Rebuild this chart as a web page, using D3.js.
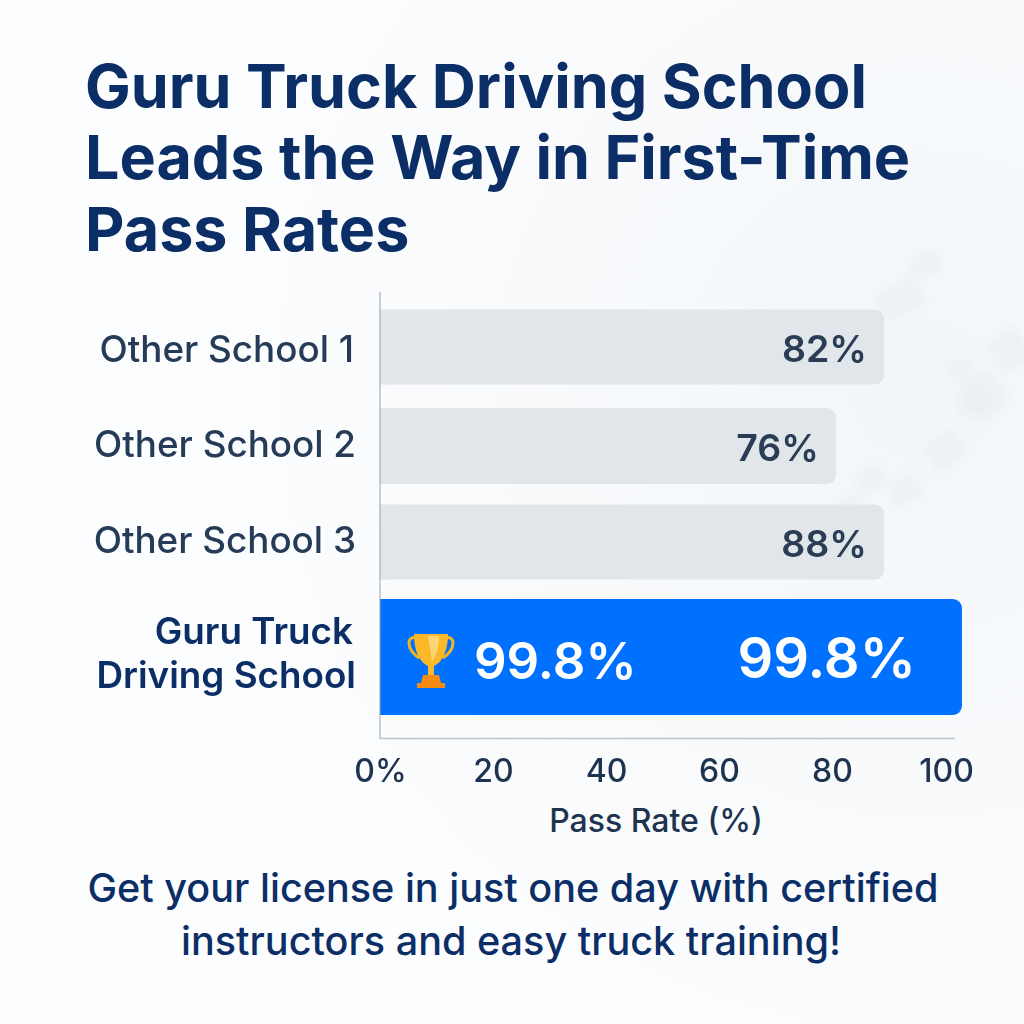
<!DOCTYPE html>
<html>
<head>
<meta charset="utf-8">
<script src="https://cdn.jsdelivr.net/npm/d3@7"></script>
<style>
  html, body { margin: 0; padding: 0; background: #fbfcfd; }
  svg { display: block; font-family: Inter, "Noto Sans", sans-serif; }
</style>
</head>
<body>
<script>
const titleLines = ['Guru Truck Driving School', 'Leads the Way in First-Time', 'Pass Rates']
const footerLines = ['Get your license in just one day with certified', 'instructors and easy truck training!']
const categories = ['Other School 1', 'Other School 2', 'Other School 3', 'Guru Truck Driving School']
// bar ends as read against the drawn axis (the picture's bars overrun their labels)
const barEnds = [89.2, 80.7, 89.2, 103]
const valueLabels = ['82%', '76%', '88%', '99.8%']
const tickValues = [0, 20, 40, 60, 80, 100]
const tickLabels = ['0%', '20', '40', '60', '80', '100']
const bgTiles = [[900, 300, 42, 30], [925, 265, 30, 22], [985, 395, 36, 40], [970, 405, 24, 24], [945, 450, 34, 30], [905, 490, 30, 24], [870, 480, 26, 22], [1010, 350, 34, 34], [960, 370, 22, 20], [850, 505, 30, 14]]

const width = 1024
const height = 1024
const margin = {left: 380, top: 292, bottom: 286}

const svg = d3.select('body').append('svg')
  .attr('width', width)
  .attr('height', height)

// faint background
const defs = svg.append('defs')
const blur = defs.append('filter').attr('id', 'soft')
blur.append('feGaussianBlur').attr('stdDeviation', 5)
const wash = defs.append('radialGradient').attr('id', 'wash').attr('cx', 0.9).attr('cy', 0.38).attr('r', 0.7)
wash.append('stop').attr('offset', 0).attr('stop-color', '#f3f6f9')
wash.append('stop').attr('offset', 1).attr('stop-color', '#fcfdfe')
svg.append('rect').attr('width', width).attr('height', height).attr('fill', 'url(#wash)')
svg.append('g').attr('filter', 'url(#soft)')
  .selectAll('rect').data(bgTiles).join('rect')
  .attr('x', (d) => d[0] - d[2] / 2)
  .attr('y', (d) => d[1] - d[3] / 2)
  .attr('width', (d) => d[2])
  .attr('height', (d) => d[3])
  .attr('fill', '#e6ebf0')
  .attr('opacity', 0.5)
  .attr('transform', (d) => `rotate(-35,${d[0]},${d[1]})`)

// title
svg.append('g').selectAll('text').data(titleLines).join('text')
  .attr('x', 85)
  .attr('y', (d, i) => 107.5 + i * 71.5)
  .attr('fill', '#0c2e66')
  .attr('font-size', 61)
  .attr('font-weight', 700)
  .text((d) => d)

// scales
const xScale = d3.scaleLinear().domain([0, 100]).range([margin.left, 945])
const yScale = d3.scaleOrdinal().domain(categories).range([347, 446, 542, 657])
const barHeight = d3.scaleOrdinal().domain(categories).range([75, 76, 75, 116])
const isLeader = (i) => i === categories.length - 1

// bars
svg.append('g').selectAll('rect').data(categories).join('rect')
  .attr('x', margin.left)
  .attr('y', (d) => yScale(d) - barHeight(d) / 2)
  .attr('width', (d, i) => xScale(barEnds[i]) - margin.left)
  .attr('height', (d) => barHeight(d))
  .attr('rx', 9)
  .attr('fill', (d, i) => isLeader(i) ? '#0071ff' : '#e1e6ea')

// square off the left end of the bars against the axis
svg.append('g').selectAll('rect').data(categories).join('rect')
  .attr('x', margin.left)
  .attr('y', (d) => yScale(d) - barHeight(d) / 2)
  .attr('width', 14)
  .attr('height', (d) => barHeight(d))
  .attr('fill', (d, i) => isLeader(i) ? '#0071ff' : '#e1e6ea')

// value labels
svg.append('g').selectAll('text').data(categories).join('text')
  .attr('x', (d, i) => xScale(barEnds[i]) - (isLeader(i) ? 46 : 17))
  .attr('y', (d, i) => yScale(d) + (isLeader(i) ? 21 : 15))
  .attr('text-anchor', 'end')
  .attr('fill', (d, i) => isLeader(i) ? '#ffffff' : '#2b3d55')
  .attr('font-size', (d, i) => isLeader(i) ? 56 : 37.5)
  .attr('font-weight', 600)
  .text((d, i) => valueLabels[i])

// second value inside the leader bar, next to the trophy
svg.append('text')
  .attr('x', 474)
  .attr('y', yScale(categories[3]) + 22)
  .attr('fill', '#ffffff')
  .attr('font-size', 51)
  .attr('font-weight', 600)
  .text(valueLabels[3])

// trophy
const trophy = svg.append('g').attr('transform', `translate(431,${yScale(categories[3]) + 4})`)
trophy.append('path')
  .attr('d', 'M-14,-23 C-25,-26 -25,-12 -12,-3 M14,-23 C25,-26 25,-12 12,-3')
  .attr('fill', 'none').attr('stroke', '#f2b71e').attr('stroke-width', 3)
trophy.append('path')
  .attr('d', 'M-17,-27 L17,-27 C17,-8 10,2 3,5 L3,14 L-3,14 L-3,5 C-10,2 -17,-8 -17,-27 Z')
  .attr('fill', '#fbb829')
trophy.append('path')
  .attr('d', 'M-3,-25 L8,-25 C8,-12 5,-5 1,0 Z')
  .attr('fill', '#fdd673')
trophy.append('path')
  .attr('d', 'M-8,14 L8,14 L10,22 L14,22 L14,27 L-14,27 L-14,22 L-10,22 Z')
  .attr('fill', '#f58a12')

// category labels
const catLabels = svg.append('g').selectAll('text').data(categories).join('text')
  .attr('text-anchor', 'end')
  .attr('fill', (d, i) => isLeader(i) ? '#0c2e66' : '#253b57')
  .attr('font-size', 36.8)
  .attr('font-weight', (d, i) => isLeader(i) ? 600 : 500)
catLabels.filter((d, i) => !isLeader(i))
  .attr('x', (d, i) => i === 0 ? 354 : 356)
  .attr('y', (d, i) => yScale(d) + (i === 0 ? 15 : 11))
  .text((d) => d)
catLabels.filter((d, i) => isLeader(i))
  .selectAll('tspan').data(['Guru Truck', 'Driving School']).join('tspan')
  .attr('x', (d, i) => i === 0 ? 353 : 356)
  .attr('y', (d, i) => yScale(categories[3]) - 13 + i * 44)
  .text((d) => d)

// axes
svg.append('line')
  .attr('x1', margin.left).attr('x2', margin.left)
  .attr('y1', margin.top).attr('y2', 738.5)
  .attr('stroke', '#9aa1a9').attr('stroke-width', 1)

const xAxis = d3.axisBottom(xScale)
  .tickValues(tickValues)
  .tickFormat((d, i) => tickLabels[i])
  .tickSize(0)
  .tickPadding(21)
const gAxis = svg.append('g')
  .attr('transform', 'translate(0,738.5)')
  .call(xAxis)
gAxis.select('.domain').attr('stroke', '#bcc2c8').attr('stroke-width', 1.5).attr('d', `M${margin.left},0H955`)
gAxis.selectAll('text')
  .attr('font-family', 'Inter, sans-serif')
  .attr('font-size', 32)
  .attr('font-weight', 500)
  .attr('fill', '#1e3350')
gAxis.selectAll('.tick text').attr('dx', (d) => d === 100 ? 1 : 0)

svg.append('text')
  .attr('x', 656)
  .attr('y', 832)
  .attr('text-anchor', 'middle')
  .attr('fill', '#1e3350')
  .attr('font-size', 32)
  .attr('font-weight', 500)
  .text('Pass Rate (%)')

// footer
svg.append('g').selectAll('text').data(footerLines).join('text')
  .attr('x', (d, i) => i === 0 ? 513 : 511)
  .attr('y', (d, i) => 902 + i * 53)
  .attr('text-anchor', 'middle')
  .attr('fill', '#0c2e66')
  .attr('font-size', 39.6)
  .attr('font-weight', 500)
  .text((d) => d)
</script>
</body>
</html>
